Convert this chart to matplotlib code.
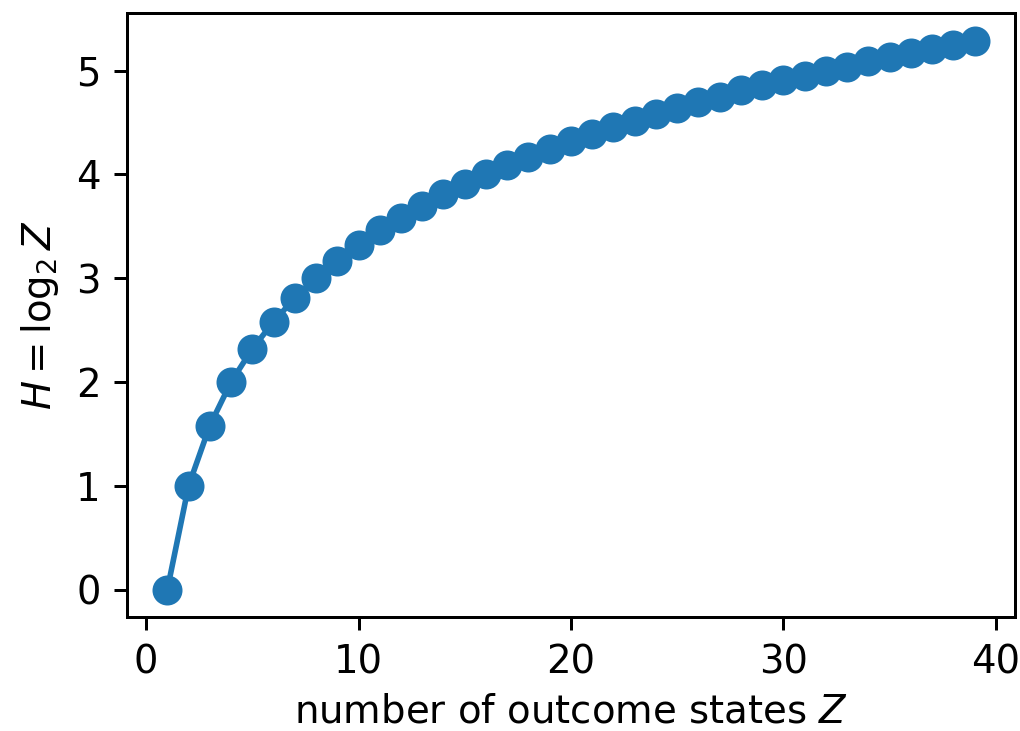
import numpy as np
import matplotlib.pyplot as plt

# number of outcome states and entropy in bits
Z = [1, 2, 3, 4, 5, 6, 7, 8, 9, 10, 11, 12, 13, 14, 15, 16, 17, 18, 19, 20,
     21, 22, 23, 24, 25, 26, 27, 28, 29, 30, 31, 32, 33, 34, 35, 36, 37, 38, 39]
H = [0.0, 1.0, 1.58, 2.0, 2.32, 2.58, 2.81, 3.0, 3.17, 3.32,
     3.46, 3.58, 3.70, 3.81, 3.91, 4.0, 4.09, 4.17, 4.25, 4.32,
     4.39, 4.46, 4.52, 4.58, 4.64, 4.70, 4.75, 4.81, 4.86, 4.91,
     4.95, 5.0, 5.04, 5.09, 5.13, 5.17, 5.21, 5.25, 5.29]

plt.rcParams['font.size'] = 10.3

dpi = 270
fig, ax = plt.subplots(figsize=(1020 / dpi, 731 / dpi), dpi=dpi)
fig.subplots_adjust(left=0.1245, right=0.995, top=0.982, bottom=0.156)

ax.plot(Z, H, 'o-', markersize=7)
ax.set_xlabel("number of outcome states $Z$", labelpad=3)
ax.set_ylabel(r"$H = \log_2 Z$")

fig.savefig("out.png", dpi=dpi)
